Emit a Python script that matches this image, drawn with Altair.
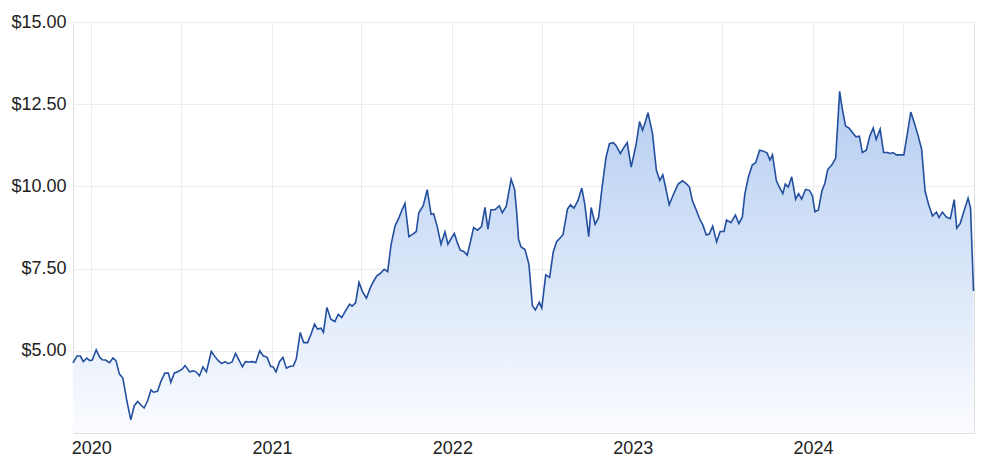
import altair as alt
import pandas as pd

dates = [
    "2019-11-25", "2019-12-03", "2019-12-10", "2019-12-16", "2019-12-23", "2019-12-29",
    "2020-01-03", "2020-01-11", "2020-01-18", "2020-01-23", "2020-01-30", "2020-02-07",
    "2020-02-14", "2020-02-20", "2020-02-27", "2020-03-05", "2020-03-13", "2020-03-21",
    "2020-03-28", "2020-04-04", "2020-04-10", "2020-04-17", "2020-04-24", "2020-05-01",
    "2020-05-06", "2020-05-14", "2020-05-21", "2020-05-29", "2020-06-05", "2020-06-10",
    "2020-06-17", "2020-06-25", "2020-07-03", "2020-07-09", "2020-07-18", "2020-07-25",
    "2020-07-31", "2020-08-07", "2020-08-14", "2020-08-21", "2020-08-31", "2020-09-07",
    "2020-09-14", "2020-09-21", "2020-09-28", "2020-10-04", "2020-10-12", "2020-10-19",
    "2020-10-26", "2020-11-02", "2020-11-08", "2020-11-15", "2020-11-22", "2020-11-29",
    "2020-12-07", "2020-12-14", "2020-12-22", "2020-12-29", "2021-01-03", "2021-01-09",
    "2021-01-16", "2021-01-23", "2021-01-30", "2021-02-07", "2021-02-13", "2021-02-19",
    "2021-02-27", "2021-03-06", "2021-03-14", "2021-03-21", "2021-03-28", "2021-04-03",
    "2021-04-10", "2021-04-15", "2021-04-22", "2021-04-30", "2021-05-08", "2021-05-15",
    "2021-05-22", "2021-05-30", "2021-06-07", "2021-06-12", "2021-06-19", "2021-06-26",
    "2021-07-03", "2021-07-11", "2021-07-19", "2021-07-25", "2021-08-01", "2021-08-08",
    "2021-08-16", "2021-08-23", "2021-08-30", "2021-09-07", "2021-09-15", "2021-09-21",
    "2021-09-27", "2021-10-05", "2021-10-13", "2021-10-20", "2021-10-25", "2021-11-03",
    "2021-11-11", "2021-11-19", "2021-11-24", "2021-12-01", "2021-12-09", "2021-12-17",
    "2021-12-23", "2021-12-29", "2022-01-05", "2022-01-11", "2022-01-17", "2022-01-24",
    "2022-01-31", "2022-02-07", "2022-02-13", "2022-02-21", "2022-03-01", "2022-03-08",
    "2022-03-14", "2022-03-20", "2022-03-28", "2022-04-06", "2022-04-12", "2022-04-20",
    "2022-04-30", "2022-05-07", "2022-05-11", "2022-05-15", "2022-05-20", "2022-05-28",
    "2022-06-05", "2022-06-12", "2022-06-18", "2022-06-26", "2022-07-01", "2022-07-09",
    "2022-07-17", "2022-07-24", "2022-07-31", "2022-08-07", "2022-08-13", "2022-08-22",
    "2022-08-28", "2022-09-04", "2022-09-12", "2022-09-20", "2022-09-26", "2022-10-04",
    "2022-10-09", "2022-10-17", "2022-10-24", "2022-10-31", "2022-11-08", "2022-11-15",
    "2022-11-23", "2022-11-29", "2022-12-07", "2022-12-14", "2022-12-21", "2022-12-29",
    "2023-01-08", "2023-01-15", "2023-01-21", "2023-01-27", "2023-02-01", "2023-02-10",
    "2023-02-18", "2023-02-25", "2023-03-03", "2023-03-08", "2023-03-16", "2023-03-24",
    "2023-04-03", "2023-04-12", "2023-04-19", "2023-04-26", "2023-05-02", "2023-05-09",
    "2023-05-16", "2023-05-23", "2023-05-30", "2023-06-05", "2023-06-12", "2023-06-20",
    "2023-06-27", "2023-07-05", "2023-07-10", "2023-07-19", "2023-07-28", "2023-08-04",
    "2023-08-11", "2023-08-16", "2023-08-23", "2023-08-31", "2023-09-07", "2023-09-15",
    "2023-09-21", "2023-09-30", "2023-10-06", "2023-10-11", "2023-10-19", "2023-10-25",
    "2023-11-01", "2023-11-06", "2023-11-12", "2023-11-19", "2023-11-27", "2023-12-03",
    "2023-12-09", "2023-12-17", "2023-12-25", "2023-12-31", "2024-01-05", "2024-01-12",
    "2024-01-19", "2024-01-25", "2024-01-31", "2024-02-08", "2024-02-16", "2024-02-24",
    "2024-03-01", "2024-03-07", "2024-03-14", "2024-03-21", "2024-03-28", "2024-04-04",
    "2024-04-10", "2024-04-18", "2024-04-25", "2024-05-02", "2024-05-08", "2024-05-16",
    "2024-05-23", "2024-05-31", "2024-06-05", "2024-06-11", "2024-06-18", "2024-06-25",
    "2024-07-03", "2024-07-10", "2024-07-17", "2024-07-23", "2024-07-31", "2024-08-08",
    "2024-08-15", "2024-08-22", "2024-08-30", "2024-09-07", "2024-09-12", "2024-09-19",
    "2024-09-27", "2024-10-05", "2024-10-13", "2024-10-18", "2024-10-25", "2024-11-02",
    "2024-11-10", "2024-11-15", "2024-11-21",
]

prices = [
    4.63, 4.84, 4.84, 4.67, 4.78, 4.70,
    4.72, 5.03, 4.80, 4.73, 4.72, 4.64,
    4.78, 4.70, 4.29, 4.17, 3.48, 2.90,
    3.33, 3.46, 3.36, 3.26, 3.48, 3.81,
    3.74, 3.77, 4.07, 4.32, 4.32, 4.04,
    4.32, 4.37, 4.44, 4.55, 4.36, 4.39,
    4.36, 4.24, 4.51, 4.36, 4.98, 4.83,
    4.70, 4.61, 4.67, 4.61, 4.66, 4.92,
    4.72, 4.51, 4.67, 4.66, 4.67, 4.64,
    5.00, 4.85, 4.80, 4.53, 4.51, 4.36,
    4.67, 4.80, 4.47, 4.53, 4.54, 4.75,
    5.56, 5.25, 5.25, 5.51, 5.81, 5.66,
    5.69, 5.56, 6.32, 5.96, 5.89, 6.11,
    6.01, 6.22, 6.42, 6.36, 6.46, 7.08,
    6.80, 6.60, 6.92, 7.10, 7.28, 7.35,
    7.48, 7.41, 8.24, 8.80, 9.05, 9.28,
    9.48, 8.47, 8.55, 8.63, 9.20, 9.41,
    9.90, 9.15, 9.17, 8.80, 8.24, 8.62,
    8.24, 8.40, 8.57, 8.29, 8.06, 8.02,
    7.91, 8.34, 8.75, 8.67, 8.78, 9.36,
    8.70, 9.29, 9.29, 9.41, 9.20, 9.39,
    10.22, 9.91, 9.25, 8.39, 8.16, 8.08,
    7.63, 6.37, 6.24, 6.48, 6.30, 7.31,
    7.23, 7.99, 8.32, 8.43, 8.53, 9.31,
    9.44, 9.34, 9.56, 9.95, 9.46, 8.47,
    9.36, 8.85, 9.05, 9.96, 10.88, 11.30,
    11.33, 11.23, 11.00, 11.18, 11.33, 10.59,
    11.28, 11.97, 11.71, 11.98, 12.24, 11.63,
    10.49, 10.18, 10.35, 10.02, 9.44, 9.74,
    10.07, 10.17, 10.09, 9.98, 9.56, 9.31,
    9.03, 8.83, 8.52, 8.55, 8.79, 8.31,
    8.63, 8.63, 8.98, 8.90, 9.13, 8.87,
    9.07, 9.76, 10.27, 10.65, 10.72, 11.10,
    11.08, 11.02, 10.80, 10.96, 10.17, 9.98,
    9.78, 10.07, 9.98, 10.29, 9.61, 9.78,
    9.61, 9.91, 9.88, 9.71, 9.23, 9.28,
    9.86, 10.09, 10.52, 10.65, 10.86, 12.89,
    12.30, 11.84, 11.77, 11.64, 11.51, 11.53,
    11.03, 11.10, 11.53, 11.78, 11.43, 11.74,
    11.03, 11.03, 11.00, 11.03, 10.96, 10.96,
    10.96, 11.60, 12.26, 11.99, 11.59, 11.13,
    9.86, 9.46, 9.10, 9.22, 9.05, 9.22,
    9.07, 9.02, 9.60, 8.73, 8.87, 9.26,
    9.64, 9.34, 6.82,
]

x_domain = ["2019-11-25", "2024-11-22"]
grid_dates = ["2020-01-01", "2020-07-01", "2021-01-01", "2021-07-01", "2022-01-01",
              "2022-07-01", "2023-01-01", "2023-07-01", "2024-01-01", "2024-07-01"]
y_ticks = [5, 7.5, 10, 12.5, 15]
y_floor = 2.5

df = pd.DataFrame({"date": pd.to_datetime(dates), "price": prices})

FONT = "Liberation Sans"

x_enc = alt.X(
    "date:T",
    scale=alt.Scale(domain=x_domain, nice=False),
    axis=alt.Axis(
        values=[alt.DateTime(year=int(d[:4]), month=int(d[5:7]), date=1) for d in grid_dates],
        labelExpr="month(datum.value) == 0 ? timeFormat(datum.value, '%Y') : ''",
        title=None,
        ticks=False,
        domain=False,
        grid=True,
        gridColor="#ececf0",
        labelPadding=6,
        labelFontSize=18,
        labelFont=FONT,
        labelColor="#222222",
        labelFlush=False,
        labelOverlap=False,
    ),
)

y_enc = alt.Y(
    "price:Q",
    scale=alt.Scale(domain=[y_floor, 15], nice=False, zero=False),
    axis=alt.Axis(
        values=y_ticks,
        format="$,.2f",
        title=None,
        ticks=False,
        domain=False,
        grid=True,
        gridColor="#ececf0",
        labelPadding=7,
        labelFontSize=18,
        labelFont=FONT,
        labelColor="#222222",
    ),
)

area = alt.Chart(df).mark_area(
    line=False,
    color=alt.Gradient(
        gradient="linear",
        x1=1, x2=1, y1=1, y2=0,
        stops=[
            alt.GradientStop(color="#fbfcff", offset=0),
            alt.GradientStop(color="#b4cdf1", offset=1),
        ],
    ),
).encode(x=x_enc, y=y_enc, y2=alt.datum(y_floor))

line = alt.Chart(df).mark_line(color="#234f9e", strokeWidth=1.6).encode(x="date:T", y="price:Q")

chart = (
    alt.layer(area, line)
    .properties(width=901, height=411, padding={"left": 2, "top": 5, "right": 5, "bottom": 5})
    .configure_view(stroke="#e6e6ea", strokeWidth=1)
    .configure(background="white")
)

chart.save("out.html", embed_options={"renderer": "svg", "actions": False})
